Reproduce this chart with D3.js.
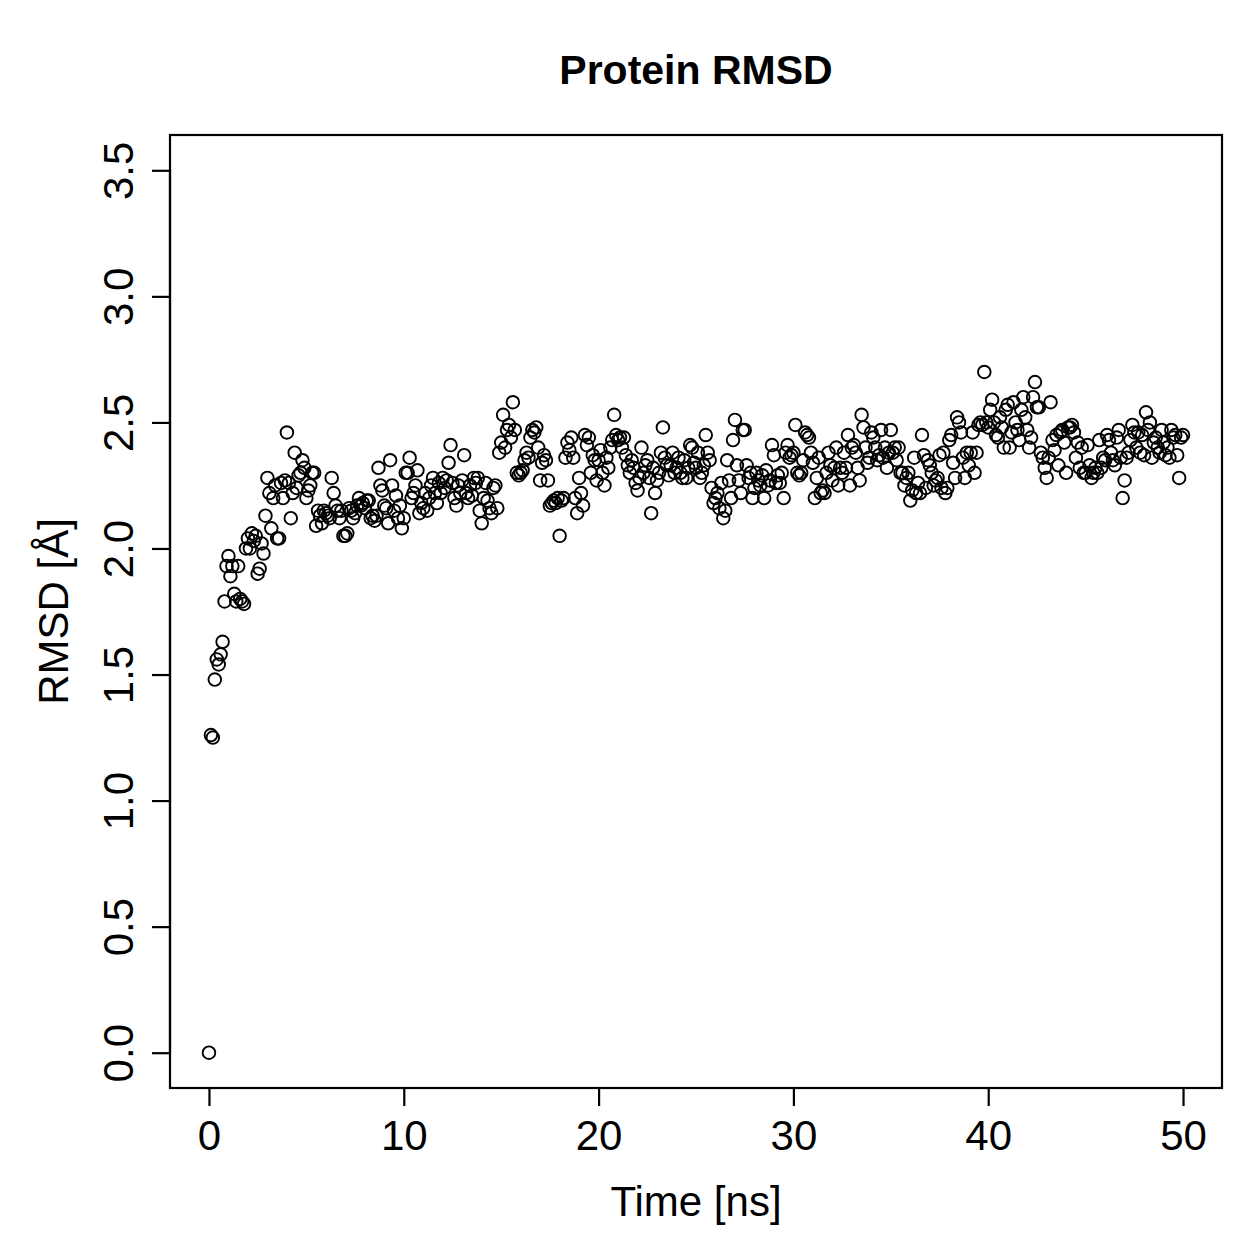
<!DOCTYPE html>
<html>
<head>
<meta charset="utf-8">
<script src="https://cdn.jsdelivr.net/npm/d3@7"></script>
<style>
  html, body { margin: 0; padding: 0; background: #fff; }
  text { font-family: "Liberation Sans", Arial, Helvetica, sans-serif; fill: #000; }
</style>
</head>
<body>
<svg id="chart" width="1259" height="1259"></svg>
<script>
// ---- data (RMSD in Å, one frame every 0.1 ns) ----
const title = "Protein RMSD";
const xLabel = "Time [ns]";
const yLabel = "RMSD [Å]";
const xTicks = [0, 10, 20, 30, 40, 50];
const yTicks = [0, 0.5, 1, 1.5, 2, 2.5, 3, 3.5];
const yTickLabels = ["0.0", "0.5", "1.0", "1.5", "2.0", "2.5", "3.0", "3.5"];
const timeStep = 0.1;

const rmsd_00_10 = [
  0.00, 1.26, 1.25, 1.48, 1.56, 1.54, 1.58, 1.63, 1.79, 1.93,
  1.97, 1.89, 1.93, 1.82, 1.79, 1.93, 1.80, 1.79, 1.78, 2.00,
  2.04, 2.00, 2.06, 2.03, 2.05, 1.90, 1.92, 2.02, 1.98, 2.13,
  2.28, 2.22, 2.08, 2.20, 2.25, 2.04, 2.04, 2.26, 2.20, 2.27,
  2.46, 2.26, 2.12, 2.22, 2.38, 2.24, 2.29, 2.30, 2.35, 2.32,
  2.20, 2.23, 2.25, 2.30, 2.30, 2.09, 2.15, 2.13, 2.10, 2.15,
  2.14, 2.13, 2.12, 2.28, 2.22, 2.17, 2.15, 2.12, 2.15, 2.05,
  2.05, 2.06, 2.16, 2.15, 2.12, 2.14, 2.17, 2.20, 2.17, 2.18,
  2.16, 2.19, 2.19, 2.12, 2.13, 2.11, 2.13, 2.32, 2.25, 2.23,
  2.17, 2.16, 2.10, 2.35, 2.25, 2.15, 2.21, 2.12, 2.17, 2.08
];
const rmsd_10_20 = [
  2.12, 2.30, 2.30, 2.36, 2.20, 2.22, 2.25, 2.31, 2.14, 2.18,
  2.16, 2.22, 2.15, 2.20, 2.25, 2.28, 2.22, 2.18, 2.26, 2.22,
  2.28, 2.24, 2.27, 2.34, 2.41, 2.26, 2.20, 2.17, 2.25, 2.22,
  2.27, 2.37, 2.22, 2.20, 2.25, 2.21, 2.28, 2.26, 2.28, 2.15,
  2.10, 2.20, 2.26, 2.19, 2.16, 2.14, 2.24, 2.25, 2.16, 2.38,
  2.42, 2.53, 2.40, 2.47, 2.49, 2.44, 2.58, 2.47, 2.30, 2.29,
  2.30, 2.31, 2.35, 2.38, 2.36, 2.44, 2.47, 2.46, 2.48, 2.40,
  2.27, 2.34, 2.37, 2.35, 2.27, 2.17, 2.18, 2.19, 2.18, 2.20,
  2.05, 2.19, 2.20, 2.36, 2.42, 2.39, 2.44, 2.36, 2.20, 2.14,
  2.28, 2.22, 2.17, 2.45, 2.41, 2.44, 2.30, 2.37, 2.35, 2.27
];
const rmsd_20_30 = [
  2.35, 2.39, 2.30, 2.25, 2.36, 2.32, 2.40, 2.43, 2.53, 2.45,
  2.43, 2.44, 2.40, 2.44, 2.37, 2.33, 2.30, 2.35, 2.32, 2.26,
  2.23, 2.28, 2.40, 2.30, 2.33, 2.35, 2.28, 2.14, 2.32, 2.22,
  2.27, 2.30, 2.38, 2.48, 2.36, 2.33, 2.29, 2.33, 2.38, 2.30,
  2.32, 2.36, 2.30, 2.28, 2.35, 2.28, 2.32, 2.41, 2.40, 2.34,
  2.32, 2.38, 2.28, 2.30, 2.33, 2.45, 2.38, 2.35, 2.24, 2.18,
  2.20, 2.22, 2.16, 2.26, 2.12, 2.15, 2.35, 2.27, 2.20, 2.43,
  2.51, 2.33, 2.27, 2.22, 2.47, 2.47, 2.33, 2.28, 2.30, 2.20,
  2.24, 2.30, 2.27, 2.25, 2.29, 2.20, 2.31, 2.25, 2.27, 2.41,
  2.37, 2.26, 2.29, 2.26, 2.30, 2.20, 2.38, 2.41, 2.36, 2.37
];
const rmsd_30_40 = [
  2.38, 2.49, 2.30, 2.29, 2.30, 2.35, 2.46, 2.45, 2.44, 2.38,
  2.34, 2.20, 2.28, 2.36, 2.22, 2.23, 2.22, 2.30, 2.38, 2.33,
  2.27, 2.32, 2.40, 2.25, 2.32, 2.30, 2.38, 2.32, 2.45, 2.25,
  2.40, 2.41, 2.38, 2.32, 2.27, 2.53, 2.48, 2.40, 2.34, 2.36,
  2.46, 2.44, 2.40, 2.35, 2.37, 2.47, 2.36, 2.40, 2.32, 2.38,
  2.47, 2.38, 2.40, 2.35, 2.40, 2.30, 2.30, 2.25, 2.28, 2.30,
  2.19, 2.23, 2.36, 2.22, 2.26, 2.22, 2.45, 2.37, 2.24, 2.35,
  2.33, 2.30, 2.25, 2.27, 2.28, 2.37, 2.24, 2.38, 2.22, 2.24,
  2.43, 2.45, 2.34, 2.28, 2.52, 2.50, 2.46, 2.36, 2.28, 2.38,
  2.33, 2.38, 2.46, 2.30, 2.38, 2.49, 2.50, 2.49, 2.70, 2.50
];
const rmsd_40_50 = [
  2.48, 2.55, 2.59, 2.50, 2.45, 2.44, 2.52, 2.48, 2.40, 2.55,
  2.57, 2.40, 2.46, 2.58, 2.50, 2.47, 2.43, 2.55, 2.60, 2.52,
  2.47, 2.40, 2.44, 2.60, 2.66, 2.56, 2.56, 2.38, 2.36, 2.32,
  2.28, 2.36, 2.58, 2.43, 2.39, 2.45, 2.33, 2.46, 2.47, 2.42,
  2.30, 2.48, 2.48, 2.49, 2.46, 2.36, 2.42, 2.32, 2.40, 2.30,
  2.30, 2.41, 2.33, 2.28, 2.30, 2.32, 2.30, 2.43, 2.32, 2.36,
  2.35, 2.45, 2.43, 2.38, 2.35, 2.33, 2.44, 2.47, 2.36, 2.20,
  2.27, 2.36, 2.38, 2.43, 2.49, 2.46, 2.40, 2.46, 2.38, 2.45,
  2.37, 2.54, 2.47, 2.50, 2.36, 2.42, 2.44, 2.40, 2.38, 2.47,
  2.42, 2.37, 2.40, 2.36, 2.47, 2.44, 2.45, 2.37, 2.28, 2.44,
  2.45
];

const rmsd = [].concat(rmsd_00_10, rmsd_10_20, rmsd_20_30, rmsd_30_40, rmsd_40_50);
const points = rmsd.map((v, i) => ({ t: +(i * timeStep).toFixed(1), v }));

// ---- layout ----
const svg = d3.select("#chart");
const box = { left: 170, right: 1222, top: 135, bottom: 1088 };

// R-style 4% axis extension
const x = d3.scaleLinear().domain([-2, 52]).range([box.left, box.right]);
const y = d3.scaleLinear().domain([-0.14, 3.64]).range([box.bottom, box.top]);

// points
svg.append("g")
  .selectAll("circle")
  .data(points)
  .join("circle")
  .attr("cx", d => x(d.t))
  .attr("cy", d => y(d.v))
  .attr("r", 6.3)
  .attr("fill", "none")
  .attr("stroke", "#000")
  .attr("stroke-width", 1.9);

// plot box
svg.append("rect")
  .attr("x", box.left).attr("y", box.top)
  .attr("width", box.right - box.left).attr("height", box.bottom - box.top)
  .attr("fill", "none").attr("stroke", "#000").attr("stroke-width", 2.2);

const axisFont = 42;

// x axis
const xAxis = d3.axisBottom(x).tickValues(xTicks).tickSize(18).tickPadding(10).tickFormat(d3.format("d"));
const gx = svg.append("g").attr("transform", `translate(0,${box.bottom})`).call(xAxis);
gx.select(".domain").attr("d", `M${x(0)},0H${x(50)}`).attr("stroke-width", 2.2);
gx.selectAll(".tick line").attr("stroke-width", 2.2);
gx.selectAll(".tick text")
  .attr("font-size", axisFont)
  .attr("font-family", "Liberation Sans, Arial, sans-serif")
  .attr("dy", null).attr("y", 62);

// y axis
const yAxis = d3.axisLeft(y).tickValues(yTicks).tickSize(18).tickFormat((d, i) => yTickLabels[i]);
const gy = svg.append("g").attr("transform", `translate(${box.left},0)`).call(yAxis);
gy.select(".domain").attr("d", `M0,${y(0)}V${y(3.5)}`).attr("stroke-width", 2.2);
gy.selectAll(".tick line").attr("stroke-width", 2.2);
gy.selectAll(".tick text")
  .attr("font-size", axisFont)
  .attr("font-family", "Liberation Sans, Arial, sans-serif")
  .attr("text-anchor", "middle")
  .attr("x", null).attr("dy", null)
  .attr("transform", "translate(-37,0) rotate(-90)");

// titles
svg.append("text")
  .attr("x", (box.left + box.right) / 2).attr("y", 84)
  .attr("text-anchor", "middle")
  .attr("font-size", 41).attr("font-weight", "bold")
  .text(title);

svg.append("text")
  .attr("x", (box.left + box.right) / 2).attr("y", 1216)
  .attr("text-anchor", "middle")
  .attr("font-size", axisFont)
  .text(xLabel);

svg.append("text")
  .attr("transform", `translate(68,${(box.top + box.bottom) / 2}) rotate(-90)`)
  .attr("text-anchor", "middle")
  .attr("font-size", axisFont)
  .text(yLabel);
</script>
</body>
</html>
